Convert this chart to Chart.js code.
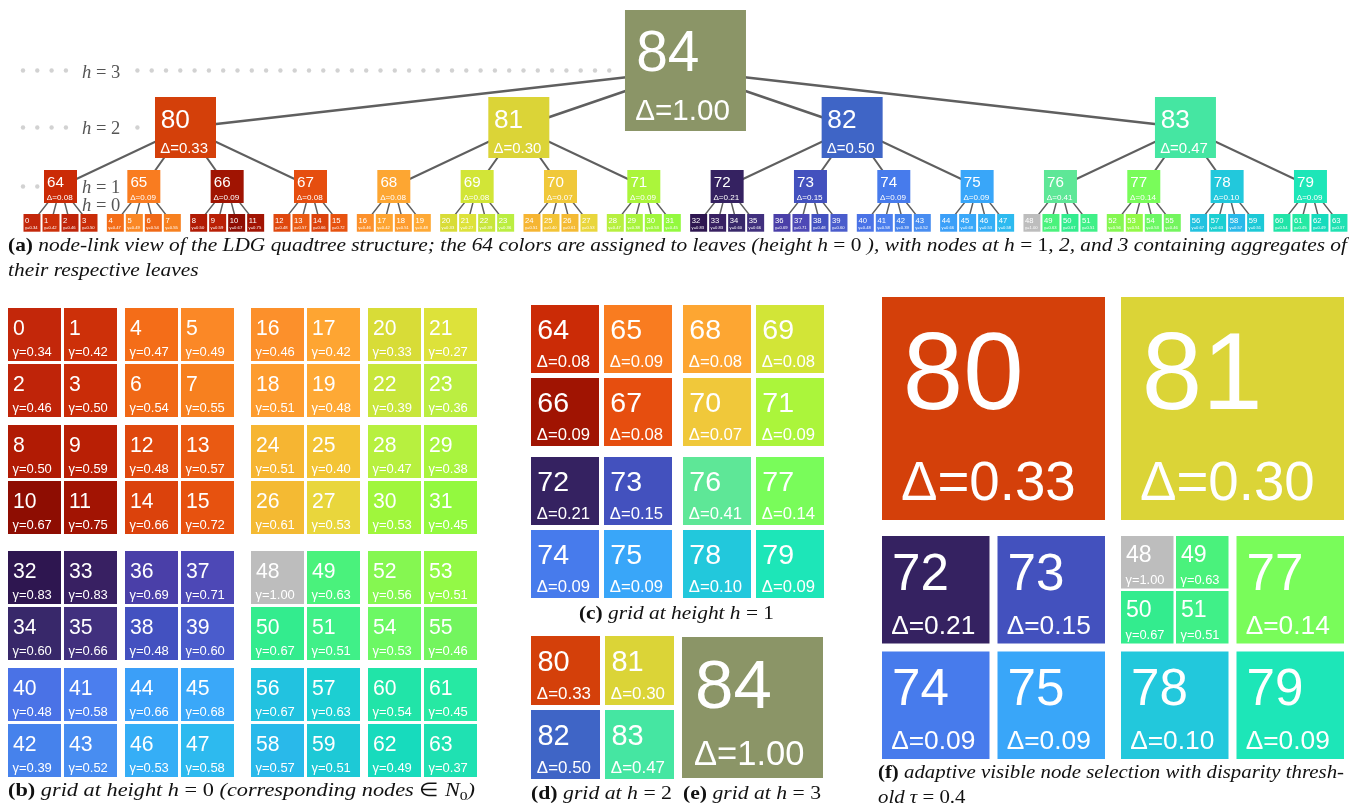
<!DOCTYPE html>
<html>
<head>
<meta charset="utf-8">
<script src="https://cdn.jsdelivr.net/npm/chart.js@4.4.0/dist/chart.umd.min.js"></script>
<style>
	html, body { margin: 0; padding: 0; background: #fff; overflow: hidden; }
	canvas { display: block; }
</style>
</head>
<body>
<canvas id="quad" width="1349" height="809"></canvas>
<script>
// ---- data ----
const leafGamma = [
	0.34, 0.42, 0.46, 0.50, 0.47, 0.49, 0.54, 0.55,
	0.50, 0.59, 0.67, 0.75, 0.48, 0.57, 0.66, 0.72,
	0.46, 0.42, 0.51, 0.48, 0.33, 0.27, 0.39, 0.36,
	0.51, 0.40, 0.61, 0.53, 0.47, 0.38, 0.53, 0.45,
	0.83, 0.83, 0.60, 0.66, 0.69, 0.71, 0.48, 0.60,
	0.48, 0.58, 0.39, 0.52, 0.66, 0.68, 0.53, 0.58,
	1.00, 0.63, 0.67, 0.51, 0.56, 0.51, 0.53, 0.46,
	0.67, 0.63, 0.57, 0.51, 0.54, 0.45, 0.49, 0.37,
];
const leafColors = [
	'#c3270a', '#cd3009', '#bf2409', '#c92c08', '#f46d18', '#fb8826', '#f06816', '#f7801f',
	'#b11b04', '#b91f05', '#8e0d02', '#a21403', '#df480e', '#ea5a12', '#db420c', '#e7520f',
	'#fc902b', '#fea532', '#fd9c2f', '#fea935', '#d8dc37', '#dde23a', '#c8e63b', '#bbee41',
	'#f6b532', '#f3c435', '#f4ba33', '#e9d63c', '#b7f03f', '#a9f43e', '#a0f63c', '#93f93f',
	'#2e1650', '#382062', '#38286a', '#41307e', '#4a3fa8', '#4d48b6', '#4351c0', '#4a5ccc',
	'#4a72e6', '#4b7eee', '#4682ec', '#488df1', '#3b9ff8', '#3aa8f9', '#35aef6', '#2dbaef',
	'#bdbdbd', '#4af27c', '#33ec8e', '#40f088', '#85f751', '#93f946', '#6cf864', '#73f55e',
	'#22c2e0', '#1ccfd2', '#29b9ea', '#1dc9d6', '#21e4a8', '#26e9a3', '#17dbbd', '#1fe1b2',
];
const h1Delta = [0.08, 0.09, 0.09, 0.08, 0.08, 0.08, 0.07, 0.09, 0.21, 0.15, 0.09, 0.09, 0.41, 0.14, 0.10, 0.09];
const h1Colors = [
	'#cb2b06', '#f97c20', '#a01402', '#e64e0f', '#fda632', '#d2e537', '#f0c83a', '#abf53b',
	'#352261', '#4351be', '#477bec', '#39a6f9', '#5ee797', '#79fc5a', '#22c8dc', '#1de6b8',
];
const h2Delta = [0.33, 0.30, 0.50, 0.47];
const h2Colors = ['#d4400a', '#dbd437', '#3f65c6', '#45e6a2'];
const rootDelta = 1.00;
const rootColor = '#8b9567';
// panel (f): nodes refined because their disparity exceeds tau
const tau = 0.4;
const levelLabels = ['3', '2', '1', '0'];

const captionA1 = [['(a)', 'b'], [' node-link view of the LDG quadtree structure; the 64 colors are assigned to leaves (height ', 'i'], ['h', 'i'], [' = 0 ', 'r'], ['), with nodes at ', 'i'], ['h', 'i'], [' = 1', 'r'], [', 2, and 3 containing aggregates of', 'i']];
const captionA2 = [['their respective leaves', 'i']];
const captionB = [['(b)', 'b'], [' grid at height ', 'i'], ['h', 'i'], [' = 0 ', 'r'], ['(corresponding nodes ', 'i'], ['\u2208 ', 'r'], ['N', 'i'], ['0', 'sub'], [')', 'i']];
const captionC = [['(c)', 'b'], [' grid at height ', 'i'], ['h', 'i'], [' = 1', 'r']];
const captionD = [['(d)', 'b'], [' grid at ', 'i'], ['h', 'i'], [' = 2', 'r']];
const captionE = [['(e)', 'b'], [' grid at ', 'i'], ['h', 'i'], [' = 3', 'r']];
const captionF1 = [['(f)', 'b'], [' adaptive visible node selection with disparity thresh-', 'i']];
const captionF2 = [['old ', 'i'], ['\u03c4', 'i'], [' = 0.4', 'r']];

// ---- layout ----
const W = 1349, H = 809;
const SANS = '"Liberation Sans", Arial, Helvetica, sans-serif';
const SERIF = '"Liberation Serif", "Times New Roman", serif';

const tree = {
	h1X0: 60.5, h1Pitch: 83.33, leafPitch: 19, leafW: 17, leafH: 17.7,
	leafY: 214, h1Y: 170, h1S: 33, h2Y: 97, h2S: 61, rootY: 10, rootS: 121,
};
const treeX = (level, k) => {
	if (level === 0) return tree.h1X0 + tree.h1Pitch * (k >> 2) + ((k & 3) - 1.5) * tree.leafPitch;
	if (level === 1) return tree.h1X0 + tree.h1Pitch * k;
	if (level === 2) return tree.h1X0 + tree.h1Pitch * (4 * k + 1.5);
	return tree.h1X0 + tree.h1Pitch * 7.5;
};
const treeY = (level) => [tree.leafY + tree.leafH / 2, tree.h1Y + tree.h1S / 2, tree.h2Y + tree.h2S / 2, tree.rootY + tree.rootS / 2][level];

const geom = (base, s, gaps) => {
	const S = [];
	S[base] = s;
	for (let l = base + 1; l <= 3; l++) S[l] = 2 * S[l - 1] + gaps[l - 1];
	return { S, g: gaps };
};
const cellPos = (G, x0, y0, level, k) => {
	let x = x0, y = y0;
	for (let l = 3; l > level; l--) {
		const d = (k >> (2 * (l - level - 1))) & 3;
		const step = G.S[l - 1] + G.g[l - 1];
		x += (d & 1) * step;
		y += (d >> 1) * step;
	}
	return { x, y, s: G.S[level] };
};

const gridB = geom(0, 53, [3, 8, 17]);
const gridC = geom(1, 68, [0, 5, 11]);
const gridD = geom(2, 69, [0, 0, 5]);
const gridE = geom(3, 141, []);
const gridF = geom(0, 52.5, [2.5, 8, 16]);

// tree edges as line datasets
const edgeSet = (childLevel, count) => {
	const pts = [];
	for (let k = 0; k < count; k++) {
		const p = childLevel === 2 ? 0 : k >> 2;
		pts.push({ x: treeX(childLevel + 1, p), y: treeY(childLevel + 1) });
		pts.push({ x: treeX(childLevel, k), y: treeY(childLevel) });
		pts.push({ x: null, y: null });
	}
	return pts;
};

const edgeStyle = (data, width) => ({
	data: data,
	showLine: true,
	spanGaps: false,
	borderColor: '#5f5f5f',
	borderWidth: width,
	pointRadius: 0,
});

// ---- drawing helpers ----
const drawCell = (c, sc, x, y, w, h, color, label, sub, numR) => {
	const X = sc.x.getPixelForValue(x), Y = sc.y.getPixelForValue(y);
	const pw = sc.x.getPixelForValue(x + w) - X, ph = sc.y.getPixelForValue(y + h) - Y;
	c.fillStyle = color;
	c.fillRect(X, Y, pw, ph);
	const s = Math.min(pw, ph);
	c.fillStyle = '#fff';
	c.textAlign = 'left';
	c.textBaseline = 'alphabetic';
	c.font = (s * numR).toFixed(2) + 'px ' + SANS;
	c.fillText(String(label), X + 0.093 * s, Y + 0.5 * s);
	c.font = (s * 0.245).toFixed(2) + 'px ' + SANS;
	c.fillText(sub, X + 0.085 * s, Y + 0.91 * s);
};

const setFont = (c, st, size) => {
	if (st === 'b') c.font = 'bold ' + size + 'px ' + SERIF;
	else if (st === 'i') c.font = 'italic ' + size + 'px ' + SERIF;
	else if (st === 'sub') c.font = (size * 0.7).toFixed(1) + 'px ' + SERIF;
	else c.font = size + 'px ' + SERIF;
};
const richWidth = (c, segs, size) => {
	let w = 0;
	segs.forEach(([t, st]) => { setFont(c, st, size); w += c.measureText(t).width; });
	return w;
};
const drawRich = (c, segs, x, base, size, sx, color) => {
	c.save();
	c.translate(x, base);
	c.scale(sx, 1);
	c.fillStyle = color || '#111';
	c.textAlign = 'left';
	c.textBaseline = 'alphabetic';
	let cx = 0;
	segs.forEach(([t, st]) => {
		setFont(c, st, size);
		c.fillText(t, cx, st === 'sub' ? size * 0.22 : 0);
		cx += c.measureText(t).width;
	});
	c.restore();
};
const fitScale = (c, segs, size, width) => width / richWidth(c, segs, size);

const gammaText = (v) => '\u03b3=' + v.toFixed(2);
const deltaText = (v) => '\u0394=' + v.toFixed(2);

const quadPlugin = {
	id: 'quadPlugin',
	beforeDatasetsDraw(chart) {
		const c = chart.ctx;
		const sc = chart.scales;
		c.save();
		c.fillStyle = '#fff';
		c.fillRect(0, 0, chart.width, chart.height);
		// dotted level guides, up to the first node of each level
		const guideEnd = [0, tree.h1X0 - tree.h1S / 2, treeX(2, 0) - tree.h2S / 2, treeX(3, 0) - tree.rootS / 2];
		c.fillStyle = '#d2d2d2';
		for (let l = 1; l <= 3; l++) {
			for (let dx = 23; dx < guideEnd[l] - 4; dx += 14.3) {
				if (dx > 70 && dx < 130) continue;
				c.beginPath();
				c.arc(sc.x.getPixelForValue(dx), sc.y.getPixelForValue(treeY(l)), 2.2, 0, Math.PI * 2);
				c.fill();
			}
		}
		c.restore();
	},
	afterDatasetsDraw(chart) {
		const c = chart.ctx;
		const sc = chart.scales;
		c.save();

		// (a) node-link tree
		drawCell(c, sc, treeX(3, 0) - tree.rootS / 2, tree.rootY, tree.rootS, tree.rootS, rootColor, 84, deltaText(rootDelta), 0.47);
		h2Delta.forEach((d, k) => drawCell(c, sc, treeX(2, k) - tree.h2S / 2, tree.h2Y, tree.h2S, tree.h2S, h2Colors[k], 80 + k, deltaText(d), 0.43));
		h1Delta.forEach((d, k) => drawCell(c, sc, treeX(1, k) - tree.h1S / 2, tree.h1Y, tree.h1S, tree.h1S, h1Colors[k], 64 + k, deltaText(d), 0.46));
		leafGamma.forEach((g, i) => drawCell(c, sc, treeX(0, i) - tree.leafW / 2, tree.leafY, tree.leafW, tree.leafH, leafColors[i], i, gammaText(g), 0.45));

		// level labels
		const labelY = [205, 187, 128, 72];
		levelLabels.forEach((t, idx) => {
			const l = 3 - idx;
			drawRich(c, [['h', 'i'], [' = ' + t, 'r']], sc.x.getPixelForValue(82), sc.y.getPixelForValue(labelY[l] + 6), 18.5, 1, '#555');
		});

		// (b) leaves
		leafGamma.forEach((g, i) => {
			const p = cellPos(gridB, 8, 308, 0, i);
			drawCell(c, sc, p.x, p.y, p.s, p.s, leafColors[i], i, gammaText(g), 0.40);
		});
		// (c) height 1
		h1Delta.forEach((d, k) => {
			const p = cellPos(gridC, 531, 305, 1, k);
			drawCell(c, sc, p.x, p.y, p.s, p.s, h1Colors[k], 64 + k, deltaText(d), 0.42);
		});
		// (d) height 2
		h2Delta.forEach((d, k) => {
			const p = cellPos(gridD, 531, 636, 2, k);
			drawCell(c, sc, p.x, p.y, p.s, p.s, h2Colors[k], 80 + k, deltaText(d), 0.42);
		});
		// (e) height 3
		const pe = cellPos(gridE, 682, 637, 3, 0);
		drawCell(c, sc, pe.x, pe.y, pe.s, pe.s, rootColor, 84, deltaText(rootDelta), 0.49);

		// (f) adaptive selection: refine nodes whose disparity exceeds tau
		const fx = 882, fy = 297;
		h2Delta.forEach((d2, k) => {
			if (d2 <= tau) {
				const p = cellPos(gridF, fx, fy, 2, k);
				drawCell(c, sc, p.x, p.y, p.s, p.s, h2Colors[k], 80 + k, deltaText(d2), 0.487);
				return;
			}
			for (let m = 0; m < 4; m++) {
				const j = 4 * k + m;
				if (h1Delta[j] <= tau) {
					const p = cellPos(gridF, fx, fy, 1, j);
					drawCell(c, sc, p.x, p.y, p.s, p.s, h1Colors[j], 64 + j, deltaText(h1Delta[j]), 0.476);
				} else {
					for (let n = 0; n < 4; n++) {
						const i = 4 * j + n;
						const p = cellPos(gridF, fx, fy, 0, i);
						drawCell(c, sc, p.x, p.y, p.s, p.s, leafColors[i], i, gammaText(leafGamma[i]), 0.44);
					}
				}
			}
		});

		// captions
		const fs = 19;
		const px = (v) => sc.x.getPixelForValue(v);
		const py = (v) => sc.y.getPixelForValue(v);
		const sa = fitScale(c, captionA1, fs, 1339);
		drawRich(c, captionA1, px(8), py(251), fs, sa);
		drawRich(c, captionA2, px(8), py(276), fs, sa);
		drawRich(c, captionB, px(8), py(796), fs, fitScale(c, captionB, fs, 467));
		drawRich(c, captionC, px(579), py(619), fs, fitScale(c, captionC, fs, 195));
		drawRich(c, captionD, px(531), py(799), fs, fitScale(c, captionD, fs, 141));
		drawRich(c, captionE, px(683), py(799), fs, fitScale(c, captionE, fs, 138));
		const sf = fitScale(c, captionF1, fs, 466);
		drawRich(c, captionF1, px(878), py(778), fs, sf);
		drawRich(c, captionF2, px(878), py(803), fs, sf);

		c.restore();
	},
};

const chart = new Chart(document.getElementById('quad'), {
	type: 'scatter',
	data: {
		datasets: [
			edgeStyle(edgeSet(0, 64), 1.5),
			edgeStyle(edgeSet(1, 16), 2),
			edgeStyle(edgeSet(2, 4), 2.5),
		],
	},
	options: {
		responsive: false,
		animation: false,
		events: [],
		layout: { padding: 0 },
		plugins: { legend: { display: false }, tooltip: { enabled: false } },
		scales: {
			x: { type: 'linear', min: 0, max: W, display: false },
			y: { type: 'linear', min: 0, max: H, reverse: true, display: false },
		},
	},
	plugins: [quadPlugin],
});
</script>
</body>
</html>
